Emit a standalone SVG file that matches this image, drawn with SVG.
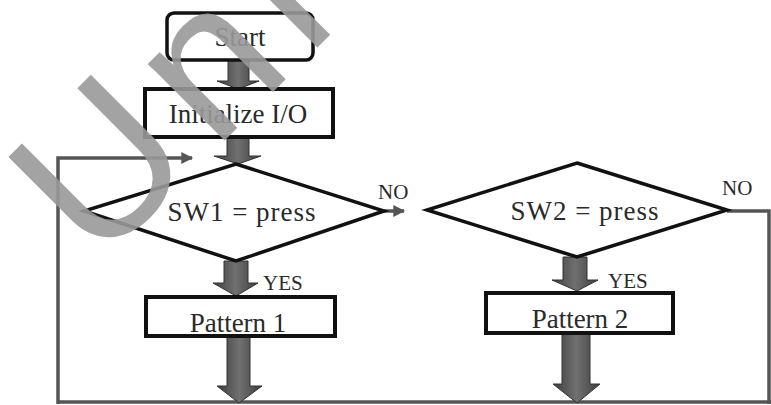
<svg xmlns="http://www.w3.org/2000/svg" width="771" height="405" viewBox="0 0 771 405">
<defs>
<linearGradient id="g" x1="0" y1="0" x2="1" y2="0">
<stop offset="0" stop-color="#3e3e3e"/>
<stop offset="0.5" stop-color="#707070"/>
<stop offset="1" stop-color="#3e3e3e"/>
</linearGradient>
<marker id="ah" viewBox="0 0 10 10" refX="9" refY="5" markerWidth="4" markerHeight="3.4" markerUnits="strokeWidth" orient="auto">
<path d="M0,0 L10,5 L0,10 Z" fill="#555"/>
</marker>
<style>
.box{fill:#fff;stroke:#111;stroke-width:4}
.dia{fill:#fff;stroke:#111;stroke-width:3.5}
.t{font-family:"Liberation Serif","Times New Roman",serif;fill:#2a2a2a;text-anchor:middle}
.big{font-size:27px}
.lab{font-size:21px;text-anchor:start}
.blk{fill:url(#g);stroke:#333;stroke-width:1}
.ln{fill:none;stroke:#555;stroke-width:3.5}
.wm{font-family:"Liberation Sans",Arial,sans-serif;font-size:205px;letter-spacing:18px;fill:#999;fill-opacity:0.9}
</style>
</defs>
<rect width="771" height="405" fill="#fff"/>

<g id="connectors">
<path class="ln" d="M58,404 V158 H192" marker-end="url(#ah)"/>
<path class="ln" d="M57,402 H771"/>
<path class="ln" d="M727,211 H769 V404"/>
<path class="ln" d="M384,211 H404" marker-end="url(#ah)"/>
<path class="blk" d="M228,60 H249 V81 H259 L238,89 L217,81 H228 Z"/>
<path class="blk" d="M227,137 H249 V156 H261 L238,164 L214,156 H227 Z"/>
<path class="blk" d="M224,261 H248 V283 H258 L236,296 L213,283 H224 Z"/>
<path class="blk" d="M227,337 H250 V386 H262 L239,403 L217,386 H227 Z"/>
<path class="blk" d="M563,257 H587 V280 H598 L577,291 L552,280 H563 Z"/>
<path class="blk" d="M562,333 H590 V384 H600 L577,403 L553,384 H562 Z"/>
</g>

<g id="start">
<rect class="box" x="167" y="13" width="146" height="47" rx="7" style="stroke-width:3.5"/>
<text class="t big" x="240" y="46">Start</text>
</g>

<g id="init">
<rect class="box" x="145" y="89" width="188" height="48"/>
<text class="t big" x="238" y="123">Initialize I/O</text>
</g>

<g id="sw1">
<path class="dia" d="M236,164 L384,211 L236,261 L84,211 Z"/>
<text class="t big" x="242" y="221" letter-spacing="1">SW1 = press</text>
<text class="t lab" x="378" y="199">NO</text>
</g>

<g id="sw2">
<path class="dia" d="M577,163 L727,210 L577,257 L427,210 Z"/>
<text class="t big" x="585" y="220" letter-spacing="1">SW2 = press</text>
<text class="t lab" x="722" y="195">NO</text>
</g>

<g id="pattern1">
<rect class="box" x="146" y="297" width="189" height="39"/>
<text class="t big" x="238" y="332">Pattern 1</text>
<text class="t lab" x="263" y="290">YES</text>
</g>

<g id="pattern2">
<rect class="box" x="486" y="293" width="187" height="40"/>
<text class="t big" x="580" y="328">Pattern 2</text>
<text class="t lab" x="608" y="288">YES</text>
</g>

<g id="watermark">
<text class="wm" x="0" y="0" transform="translate(97,268) rotate(-45)">Univ</text>
</g>
</svg>
